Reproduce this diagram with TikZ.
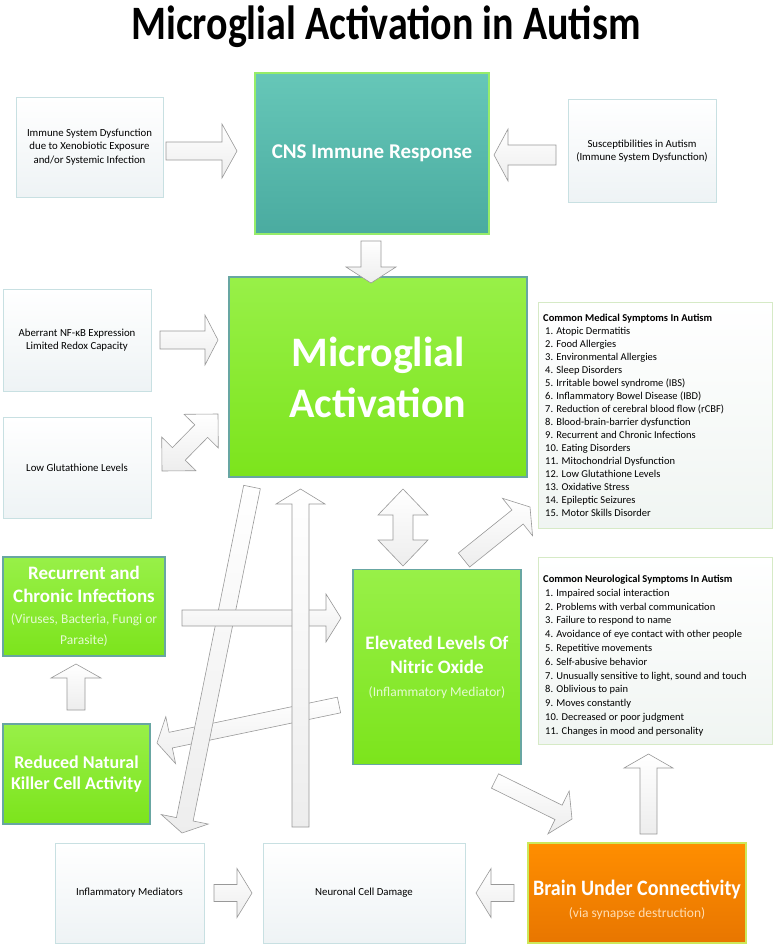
\documentclass[tikz,border=0pt]{standalone}
\usepackage{fontspec}
\setmainfont{Carlito}
\usepackage{xcolor}
\usepackage{tikz}
\usetikzlibrary{calc}
\definecolor{teal1}{RGB}{102,199,184}
\definecolor{teal2}{RGB}{74,171,160}
\definecolor{green1}{RGB}{152,240,72}
\definecolor{green2}{RGB}{124,228,28}
\definecolor{orange1}{RGB}{255,142,0}
\definecolor{orange2}{RGB}{232,118,0}
\definecolor{greenline}{RGB}{104,166,162}
\definecolor{paleline}{RGB}{200,224,226}
\definecolor{listline}{RGB}{214,234,198}
\definecolor{limeline}{RGB}{150,236,105}
% block arrow from #1 to #2: shaft half width #3, head half width #4, head length #5
\newcommand{\fatarrow}[5]{%
  \coordinate (hb) at ($(#2)!#5pt!(#1)$);
  \draw[blockarrow] ($(#1)!#3pt!90:(#2)$) -- ($(hb)!#3pt!-90:(#1)$) -- ($(hb)!#4pt!-90:(#1)$) -- (#2)
    -- ($(hb)!#4pt!90:(#1)$) -- ($(hb)!#3pt!90:(#1)$) -- ($(#1)!#3pt!-90:(#2)$) -- cycle;
}
% same, with a head at both ends
\newcommand{\fatdarrow}[5]{%
  \coordinate (ha) at ($(#1)!#5pt!(#2)$);
  \coordinate (hb) at ($(#2)!#5pt!(#1)$);
  \draw[blockarrow] (#1) -- ($(ha)!#4pt!90:(#2)$) -- ($(ha)!#3pt!90:(#2)$) -- ($(hb)!#3pt!-90:(#1)$)
    -- ($(hb)!#4pt!-90:(#1)$) -- (#2) -- ($(hb)!#4pt!90:(#1)$) -- ($(hb)!#3pt!90:(#1)$)
    -- ($(ha)!#3pt!-90:(#2)$) -- ($(ha)!#4pt!-90:(#2)$) -- cycle;
}
\newcommand{\subtext}[1]{{\fontsize{13.5}{16}\selectfont\mdseries\color{white!75!green1}#1}}
\begin{document}
\begin{tikzpicture}[
    x=1pt, y=-1pt,
    blockarrow/.style={draw=black!40, line width=0.6pt, top color=white, bottom color=black!7},
    whitebox/.style={draw=paleline, line width=0.8pt, top color=white, bottom color={rgb,255:red,238;green,243;blue,245},
      inner sep=2pt, align=center, font=\fontsize{10.8}{13.5}\selectfont},
    greenbox/.style={draw=greenline, line width=1.6pt, top color=green1, bottom color=green2,
      text=white, align=center, inner sep=2pt},
    listbox/.style={draw=listline, line width=0.8pt, top color=white, bottom color={rgb,255:red,240;green,245;blue,242}},
    ]
\useasboundingbox (0,0) rectangle (774,947);

\node[font=\fontsize{40}{44}\selectfont\bfseries] (title) at (386,27) {\scalebox{1}[1.2]{Microglial Activation in Autism}};

% top row
\node[whitebox, minimum width=147, minimum height=100] (immune) at (89.5,147)
  {Immune System Dysfunction\\due to Xenobiotic Exposure\\and/or Systemic Infection};
\node[draw=limeline, line width=1.6pt, top color=teal1, bottom color=teal2, text=white,
  minimum width=234, minimum height=161, font=\fontsize{21}{25}\selectfont\bfseries] (cns) at (372,153.5)
  {CNS Immune Response};
\node[whitebox, minimum width=148, minimum height=103] (suscept) at (642,151)
  {Susceptibilities in Autism\\(Immune System Dysfunction)};

% middle
\node[greenbox, minimum width=298, minimum height=200, font=\fontsize{42}{51}\selectfont\bfseries] (micro) at (378,377)
  {Microglial\\Activation};
\node[whitebox, minimum width=148, minimum height=102] (aberrant) at (77,340)
  {Aberrant NF-κB Expression\\Limited Redox Capacity};
\node[whitebox, minimum width=148, minimum height=101] (glut) at (77,468) {Low Glutathione Levels};

\node[listbox, minimum width=234, minimum height=226] (medical) at (655,415) {};
\node[anchor=north west, inner sep=0pt, align=left, font=\fontsize{10.5}{13}\selectfont] (medlist) at (543,314)
  {\textbf{Common Medical Symptoms In Autism}\\
  \hspace{2pt}1. Atopic Dermatitis\\
  \hspace{2pt}2. Food Allergies\\
  \hspace{2pt}3. Environmental Allergies\\
  \hspace{2pt}4. Sleep Disorders\\
  \hspace{2pt}5. Irritable bowel syndrome (IBS)\\
  \hspace{2pt}6. Inflammatory Bowel Disease (IBD)\\
  \hspace{2pt}7. Reduction of cerebral blood flow (rCBF)\\
  \hspace{2pt}8. Blood-brain-barrier dysfunction\\
  \hspace{2pt}9. Recurrent and Chronic Infections\\
  \hspace{2pt}10. Eating Disorders\\
  \hspace{2pt}11. Mitochondrial Dysfunction\\
  \hspace{2pt}12. Low Glutathione Levels\\
  \hspace{2pt}13. Oxidative Stress\\
  \hspace{2pt}14. Epileptic Seizures\\
  \hspace{2pt}15. Motor Skills Disorder};

\node[greenbox, minimum width=162, minimum height=99, font=\fontsize{19}{23}\selectfont\bfseries] (recurrent) at (84,606.5)
  {Recurrent and\\Chronic Infections\\[-2pt]\subtext{(Viruses, Bacteria, Fungi or}\\[-2pt]\subtext{Parasite)}};
\node[greenbox, minimum width=147, minimum height=100, font=\fontsize{18}{20.5}\selectfont\bfseries] (reduced) at (76.5,774)
  {Reduced Natural\\Killer Cell Activity};
\node[greenbox, minimum width=168, minimum height=195, font=\fontsize{19}{24}\selectfont\bfseries] (nitric) at (437,667)
  {Elevated Levels Of\\Nitric Oxide\\[-1pt]\subtext{(Inflammatory Mediator)}};

\node[listbox, minimum width=234, minimum height=187] (neuro) at (655,650.5) {};
\node[anchor=north west, inner sep=0pt, align=left, font=\fontsize{10.5}{13.8}\selectfont] (neurolist) at (543,575)
  {\textbf{Common Neurological Symptoms In Autism}\\
  \hspace{2pt}1. Impaired social interaction\\
  \hspace{2pt}2. Problems with verbal communication\\
  \hspace{2pt}3. Failure to respond to name\\
  \hspace{2pt}4. Avoidance of eye contact with other people\\
  \hspace{2pt}5. Repetitive movements\\
  \hspace{2pt}6. Self-abusive behavior\\
  \hspace{2pt}7. Unusually sensitive to light, sound and touch\\
  \hspace{2pt}8. Oblivious to pain\\
  \hspace{2pt}9. Moves constantly\\
  \hspace{2pt}10. Decreased or poor judgment\\
  \hspace{2pt}11. Changes in mood and personality};

% bottom row
\node[whitebox, minimum width=149, minimum height=100] (inflam) at (129.5,893) {Inflammatory Mediators};
\node[whitebox, minimum width=202, minimum height=100] (neuronal) at (364,893) {Neuronal Cell Damage};
\node[draw={rgb,255:red,205;green,232;blue,90}, line width=1.6pt, top color=orange1, bottom color=orange2,
  minimum width=218, minimum height=100] (brain) at (637,893) {};
\node[text=white, align=center, font=\fontsize{20}{22}\selectfont\bfseries] (braintext) at (637,900)
  {\scalebox{1}[1.1]{Brain Under Connectivity}\\{\fontsize{13.5}{16}\selectfont\mdseries\color{white!70!orange1}(via synapse destruction)}};

% arrow ends
\coordinate (immune-out) at (166,151);
\coordinate (cns-in-l) at (237,151);
\coordinate (suscept-out) at (556,155);
\coordinate (cns-in-r) at (494,155);
\coordinate (cns-out) at (371,241);
\coordinate (micro-in-t) at (371,283);
\coordinate (aberrant-out) at (160,340);
\coordinate (micro-in-l) at (218,340);
\coordinate (glut-end) at (162,471);
\coordinate (micro-end-l) at (218,414);
\coordinate (micro-out-b) at (252,487);
\coordinate (inflam-in) at (182,833);
\coordinate (neuronal-out) at (300.5,827);
\coordinate (micro-in-b) at (300.5,489);
\coordinate (micro-end-b) at (403,489);
\coordinate (nitric-end-t) at (403,566);
\coordinate (nitric-out-r) at (464,560);
\coordinate (medical-in) at (530,507);
\coordinate (recurrent-out) at (182,618);
\coordinate (nitric-in-l) at (341,618);
\coordinate (reduced-out) at (76,710);
\coordinate (recurrent-in) at (76,664);
\coordinate (nitric-out-l) at (339,705);
\coordinate (reduced-in) at (157,743);
\coordinate (nitric-out-b) at (495,781);
\coordinate (brain-in) at (572,819);
\coordinate (brain-out-t) at (648.5,834);
\coordinate (neuro-in) at (648.5,754);
\coordinate (inflam-out) at (214,893);
\coordinate (neuronal-in-l) at (252,893);
\coordinate (brain-out-l) at (514,893);
\coordinate (neuronal-in-r) at (476,893);

\fatarrow{immune-out}{cns-in-l}{9}{27}{15}
\fatarrow{suscept-out}{cns-in-r}{10}{26}{14}
\fatarrow{cns-out}{micro-in-t}{10}{25}{16}
\fatarrow{aberrant-out}{micro-in-l}{9}{25}{13}
\fatdarrow{glut-end}{micro-end-l}{9}{24}{24}
\fatdarrow{micro-end-b}{nitric-end-t}{10}{25}{26}
\fatarrow{nitric-out-r}{medical-in}{9}{24}{16}
\fatarrow{reduced-out}{recurrent-in}{9}{25}{14}
\fatarrow{nitric-out-l}{reduced-in}{8}{24}{14}
\fatarrow{micro-out-b}{inflam-in}{8.5}{24}{14}
\fatarrow{recurrent-out}{nitric-in-l}{8}{24}{15}
\fatarrow{neuronal-out}{micro-in-b}{8.5}{24.5}{15}
\fatarrow{nitric-out-b}{brain-in}{8}{24}{15}
\fatarrow{brain-out-t}{neuro-in}{8.5}{24.5}{14}
\fatarrow{inflam-out}{neuronal-in-l}{8.5}{24.5}{15}
\fatarrow{brain-out-l}{neuronal-in-r}{8.5}{24.5}{15}
\end{tikzpicture}
\end{document}
